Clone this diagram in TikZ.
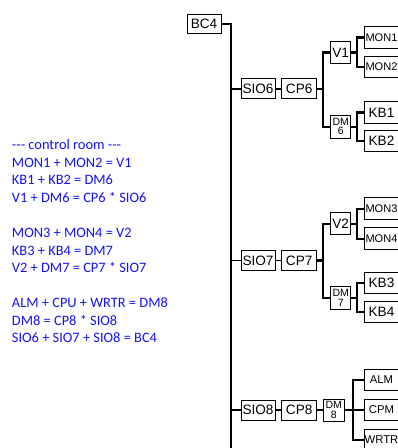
\documentclass[tikz,border=0pt]{standalone}
\usepackage{fontspec}
\setmainfont{Liberation Sans}
\newfontfamily\notefont{Carlito}
\definecolor{notecol}{RGB}{20,20,240}
\begin{document}
\begin{tikzpicture}[x=0.75pt,y=-0.75pt,
  box/.style={draw, line width=0.75pt, inner sep=0pt, align=center, font=\fontsize{10.2}{11}\selectfont},
  wide/.style={box, minimum width=25.5pt, minimum height=15pt},
  narrow/.style={box, minimum width=15pt, minimum height=16.2pt},
  dmbox/.style={box, minimum width=15pt, minimum height=17.25pt, font=\fontsize{7.9}{7}\selectfont},
  leaf/.style={box, minimum width=26.25pt, minimum height=16.2pt},
  smallleaf/.style={leaf, font=\fontsize{8.3}{9}\selectfont},
  bus/.style={line width=1.6pt},
  link/.style={line width=1.2pt},
  note/.style={anchor=base west, inner sep=0pt, text=notecol, font=\notefont\fontsize{10.8}{13}\selectfont}]
\useasboundingbox (0,0) rectangle (398,448);
\clip (0,0) rectangle (398,448);

% notes
\node[note] (t1) at (11.7,150) {--- control room ---};
\node[note] (t2) at (11.7,167.5) {MON1 + MON2 = V1};
\node[note] (t3) at (11.7,185) {KB1 + KB2 = DM6};
\node[note] (t4) at (11.7,202.5) {V1 + DM6 = CP6 * SIO6};
\node[note] (t5) at (11.7,237.5) {MON3 + MON4 = V2};
\node[note] (t6) at (11.7,255) {KB3 + KB4 = DM7};
\node[note] (t7) at (11.7,272.5) {V2 + DM7 = CP7 * SIO7};
\node[note] (t8) at (11.7,307.5) {ALM + CPU + WRTR = DM8};
\node[note] (t9) at (11.7,325) {DM8 = CP8 * SIO8};
\node[note] (t10) at (11.7,342.5) {SIO6 + SIO7 + SIO8 = BC4};

% root and bus
\node[wide, minimum height=14.25pt] (bc4) at (204,24) {BC4};
\coordinate (btop) at (231,24);
\coordinate (bbot) at (231,450);
\draw[bus] (bc4.east) -- (btop) -- (bbot);

% section 6
\node[wide] (sio6) at (258,89) {SIO6};
\node[wide, minimum width=26.25pt] (cp6) at (299.2,89) {CP6};
\node[narrow] (v1) at (340.7,52.5) {V1};
\node[dmbox] (dm6) at (340.7,126.7) {DM\\6};
\node[smallleaf] (mon1) at (381.5,37.5) {MON1};
\node[smallleaf] (mon2) at (381.5,67) {MON2};
\node[leaf] (kb1) at (381.5,112.5) {KB1};
\node[leaf] (kb2) at (381.5,141) {KB2};
\coordinate (b6) at (231,89);
\coordinate (j6) at (323,89);
\coordinate (jv1) at (357,52.5);
\coordinate (jdm6) at (357,126.7);
\draw[link] (b6) -- (sio6.west);
\draw[link] (sio6.east) -- (cp6.west);
\draw[bus] (cp6.east) -- (j6);
\draw[bus] (j6) |- (v1.west);
\draw[bus] (j6) |- (dm6.west);
\draw[bus] (v1.east) -- (jv1);
\draw[bus] (jv1) |- (mon1.west);
\draw[bus] (jv1) |- (mon2.west);
\draw[bus] (dm6.east) -- (jdm6);
\draw[bus] (jdm6) |- (kb1.west);
\draw[bus] (jdm6) |- (kb2.west);

% section 7
\node[wide] (sio7) at (258,260.5) {SIO7};
\node[wide, minimum width=26.25pt] (cp7) at (299.2,260.5) {CP7};
\node[narrow] (v2) at (340.7,223.7) {V2};
\node[dmbox] (dm7) at (340.7,298) {DM\\7};
\node[smallleaf] (mon3) at (381.5,208.7) {MON3};
\node[smallleaf] (mon4) at (381.5,238.8) {MON4};
\node[leaf] (kb3) at (381.5,283) {KB3};
\node[leaf] (kb4) at (381.5,311.8) {KB4};
\coordinate (b7) at (231,260.5);
\coordinate (j7) at (323,260.5);
\coordinate (jv2) at (357,223.7);
\coordinate (jdm7) at (357,298);
\draw[link] (b7) -- (sio7.west);
\draw[link] (sio7.east) -- (cp7.west);
\draw[bus] (cp7.east) -- (j7);
\draw[bus] (j7) |- (v2.west);
\draw[bus] (j7) |- (dm7.west);
\draw[bus] (v2.east) -- (jv2);
\draw[bus] (jv2) |- (mon3.west);
\draw[bus] (jv2) |- (mon4.west);
\draw[bus] (dm7.east) -- (jdm7);
\draw[bus] (jdm7) |- (kb3.west);
\draw[bus] (jdm7) |- (kb4.west);

% section 8
\node[wide] (sio8) at (258,410) {SIO8};
\node[wide, minimum width=26.25pt] (cp8) at (299.2,410) {CP8};
\node[dmbox, minimum width=15.75pt, minimum height=16.5pt] (dm8) at (333.8,410) {DM\\8};
\node[leaf, font=\fontsize{8.5}{9}\selectfont] (alm) at (381.5,380) {ALM};
\node[leaf, font=\fontsize{8.5}{9}\selectfont] (cpm) at (381.5,410) {CPM};
\node[leaf, font=\fontsize{8.5}{9}\selectfont] (wrtr) at (381.5,440) {WRTR};
\coordinate (b8) at (231,410);
\coordinate (j8) at (353.3,410);
\draw[link] (b8) -- (sio8.west);
\draw[link] (sio8.east) -- (cp8.west);
\draw[link] (cp8.east) -- (dm8.west);
\draw[bus] (dm8.east) -- (j8);
\draw[bus] (j8) |- (alm.west);
\draw[bus] (j8) -- (cpm.west);
\draw[bus] (j8) |- (wrtr.west);
\end{tikzpicture}
\end{document}
